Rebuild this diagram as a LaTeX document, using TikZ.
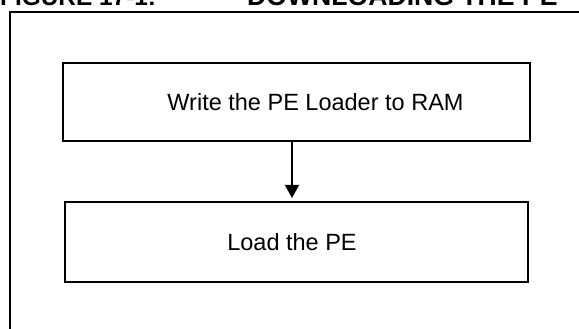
\documentclass[tikz,border=0pt]{standalone}
\usepackage{fontspec}
\setmainfont{Liberation Sans}
\usetikzlibrary{arrows.meta,positioning}
\newcommand{\linew}{2pt}
\newcommand{\boxfont}{\fontsize{23.5}{28}\selectfont}
\newcommand{\titlefont}{\fontsize{26.6}{32}\selectfont\bfseries}

\begin{document}
\begin{tikzpicture}[x=1pt,y=1pt]
        \tikzset{StepStyle/.style = {draw, line width=\linew, inner sep=0pt, font=\boxfont}}
        \useasboundingbox (0,0) rectangle (579,329);
        \clip (0,0) rectangle (579,329);
        %\draw[help lines] (0,0) grid (579,329);
        \node[anchor=base west, inner sep=0pt, font=\fontsize{24.4}{30}\selectfont\bfseries] (fig) at (0,323) {FIGURE 17-1:};
        \node[anchor=base west, inner sep=0pt, font=\titlefont] (title) at (247,323) {DOWNLOADING THE PE};
        \draw[line width=\linew] (10,-10) -- (10,317) -- (600,317);
        \node[StepStyle, minimum width=467pt, minimum height=78pt] (write) at (296.5,227) {\hspace*{38pt}Write the PE Loader to RAM};
        \node[StepStyle, minimum width=463pt, minimum height=80pt, below=59pt of write] (load) {\hspace*{-9pt}Load the PE};
        \draw[line width=1.6pt, -{Triangle[width=14pt,length=13pt]}, shorten >=3pt] ([xshift=-4.5pt]write.south) -- ([xshift=-4.5pt]load.north);
    \end{tikzpicture}
\end{document}
